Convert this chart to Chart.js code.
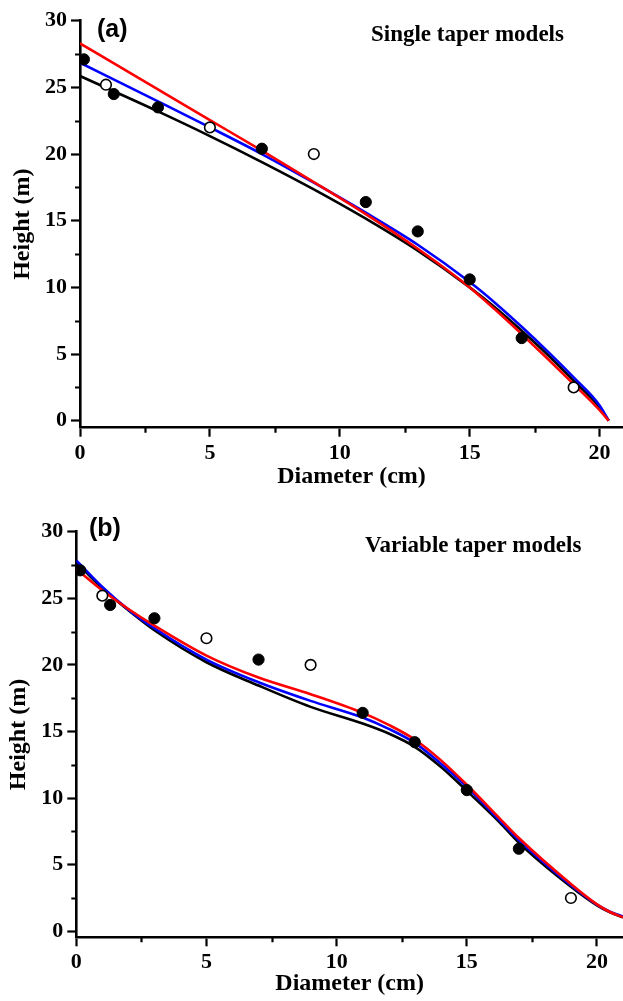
<!DOCTYPE html>
<html>
<head>
<meta charset="utf-8">
<script src="https://cdn.jsdelivr.net/npm/chart.js@4"></script>
<style>
  html, body { margin: 0; padding: 0; background: #fff; }
  .panel { position: absolute; left: 0; width: 623px; }
  #topBox { top: 0; height: 500px; }
  #bottomBox { top: 500px; height: 501px; }
</style>
</head>
<body>
<div class="panel" id="topBox"><canvas id="singleChart"></canvas></div>
<div class="panel" id="bottomBox"><canvas id="variableChart"></canvas></div>
<script>
// measured stem profile (same in both panels)
const filledD = [0.15, 1.3, 3, 7, 11, 13, 15, 17];
const filledH = [27.1, 24.5, 23.5, 20.4, 16.4, 14.2, 10.6, 6.2];
const openD = [1, 5, 9, 19];
const openH = [25.2, 22.0, 20.0, 2.5];

// single taper model curves
const singleD = [0, 3, 5, 7, 9, 11, 13, 15, 16, 17, 18, 19, 20, 20.35];
const singleBlack = [25.85, 23.2, 21.35, 19.4, 17.35, 15.15, 12.75, 10.0, 8.45, 6.75, 4.95, 3.0, 1.0, 0];
const singleBlue = [26.85, 23.95, 22.0, 20.0, 17.85, 15.6, 13.2, 10.4, 8.8, 7.05, 5.2, 3.25, 1.15, 0];
const singleRed = [28.3, 24.85, 22.55, 20.25, 17.9, 15.5, 12.9, 10.0, 8.3, 6.5, 4.65, 2.75, 0.8, 0];

// variable taper model curves
const variableD = [0, 1, 2, 3, 5, 7, 9, 11, 12, 13, 14, 15, 16.25, 17, 19, 20, 20.5, 21];
const variableBlack = [27.7, 25.75, 24.1, 22.6, 20.2, 18.45, 16.85, 15.6, 14.85, 13.85, 12.35, 10.55, 8.2, 6.65, 3.35, 1.95, 1.42, 1.05];
const variableBlue = [27.85, 25.85, 24.15, 22.75, 20.4, 18.7, 17.3, 16.05, 15.2, 14.15, 12.6, 10.85, 8.35, 6.85, 3.45, 2.0, 1.47, 1.1];
const variableRed = [27.2, 25.6, 24.2, 22.95, 20.7, 19.05, 17.8, 16.4, 15.5, 14.4, 12.85, 11.0, 8.5, 7.0, 3.55, 2.02, 1.45, 1.05];

const yTicks = [0, 5, 10, 15, 20, 25, 30];
const xTicks = [0, 5, 10, 15, 20];

const serif = "'Liberation Serif', 'Times New Roman', serif";
const sans = "'Liberation Sans', Arial, sans-serif";

const toXY = (xs, ys) => xs.map((x, i) => ({ x: x, y: ys[i] }));

// short in-between ticks at the half steps
const minorTicks = {
  id: "minorTicks",
  afterDraw(chart) {
    const { ctx } = chart;
    const x = chart.scales.x;
    const y = chart.scales.y;
    ctx.save();
    ctx.strokeStyle = "#000";
    ctx.lineWidth = 2.2;
    ctx.beginPath();
    for (let v = 2.5; v < x.max; v += 5) {
      const px = Math.round(x.getPixelForValue(v)) + 0.5;
      ctx.moveTo(px, x.top);
      ctx.lineTo(px, x.top + 5);
    }
    for (let v = 2.5; v < y.max; v += 5) {
      const py = Math.round(y.getPixelForValue(v)) + 0.5;
      ctx.moveTo(y.right - 5, py);
      ctx.lineTo(y.right, py);
    }
    ctx.stroke();
    ctx.restore();
  },
};

// panel letter and heading inside the plot
const panelText = {
  id: "panelText",
  afterDraw(chart, args, opts) {
    const { ctx } = chart;
    ctx.save();
    ctx.fillStyle = "#000";
    ctx.textBaseline = "alphabetic";
    ctx.textAlign = "left";
    ctx.font = "bold 25px " + sans;
    ctx.fillText(opts.tag, opts.tagX, opts.tagY);
    ctx.font = "bold 23px " + serif;
    ctx.fillText(opts.heading, opts.headX, opts.headY);
    ctx.restore();
  },
};

function makeChart(id, cfg) {
  const ctx = document.getElementById(id).getContext("2d");
  return new Chart(ctx, {
    type: "line",
    data: {
      datasets: [
        {
          label: "filled",
          data: toXY(filledD, filledH),
          showLine: false,
          pointRadius: 5.6,
          pointBackgroundColor: "#000",
          pointBorderColor: "#000",
          pointBorderWidth: 1,
          order: 0,
        },
        {
          label: "open",
          data: toXY(openD, openH),
          showLine: false,
          pointRadius: 5.3,
          pointBackgroundColor: "#fff",
          pointBorderColor: "#000",
          pointBorderWidth: 1.6,
          order: 0,
        },
        {
          label: "red",
          data: toXY(cfg.d, cfg.red),
          borderColor: "#ff0000",
          order: 1,
        },
        {
          label: "blue",
          data: toXY(cfg.d, cfg.blue),
          borderColor: "#0000ff",
          order: 2,
        },
        {
          label: "black",
          data: toXY(cfg.d, cfg.black),
          borderColor: "#000000",
          order: 3,
        },
      ],
    },
    options: {
      responsive: true,
      maintainAspectRatio: false,
      animation: false,
      layout: {
        autoPadding: false,
        padding: { top: cfg.padTop, left: 0, right: 0, bottom: 0 },
      },
      elements: {
        line: { borderWidth: 2.6, cubicInterpolationMode: "monotone", fill: false },
        point: { radius: 0, hoverRadius: 0 },
      },
      plugins: {
        legend: { display: false },
        tooltip: { enabled: false },
        panelText: cfg.text,
      },
      scales: {
        x: {
          type: "linear",
          min: 0,
          max: cfg.xMax,
          afterFit: (s) => {
            s.height = cfg.xHeight;
            s.paddingLeft = 0;
            s.paddingRight = 0;
          },
          afterBuildTicks: (s) => { s.ticks = xTicks.map((v) => ({ value: v })); },
          border: { display: true, color: "#000", width: 2.6 },
          grid: { drawOnChartArea: false, drawTicks: true, tickLength: 9, tickWidth: 2.2, tickColor: "#000" },
          ticks: {
            color: "#000",
            padding: 3,
            maxRotation: 0,
            font: { family: serif, size: 22, weight: "bold" },
          },
          title: {
            display: true,
            text: "Diameter (cm)",
            color: "#000",
            padding: { top: 0, bottom: cfg.xTitlePad },
            font: { family: serif, size: 24, weight: "bold" },
          },
        },
        y: {
          type: "linear",
          min: cfg.yMin,
          max: 30,
          afterFit: (s) => {
            s.width = cfg.yWidth;
            s.paddingTop = 0;
            s.paddingBottom = 0;
          },
          afterBuildTicks: (s) => { s.ticks = yTicks.map((v) => ({ value: v })); },
          border: { display: true, color: "#000", width: 2.6 },
          grid: { drawOnChartArea: false, drawTicks: true, tickLength: 9, tickWidth: 2.2, tickColor: "#000" },
          ticks: {
            color: "#000",
            padding: 4,
            font: { family: serif, size: 22, weight: "bold" },
          },
          title: {
            display: true,
            text: "Height (m)",
            color: "#000",
            padding: { top: cfg.yTitlePad, bottom: 0 },
            font: { family: serif, size: 24, weight: "bold" },
          },
        },
      },
    },
    plugins: [minorTicks, panelText],
  });
}

makeChart("singleChart", {
  d: singleD,
  black: singleBlack,
  blue: singleBlue,
  red: singleRed,
  padTop: 20.7,
  yWidth: 80,
  xHeight: 72.3,
  yMin: -0.52,
  xMax: 20.9,
  xTitlePad: 8.7,
  yTitlePad: 8.5,
  text: { tag: "(a)", tagX: 97, tagY: 36.5, heading: "Single taper models", headX: 371, headY: 41 },
});

makeChart("variableChart", {
  d: variableD,
  black: variableBlack,
  blue: variableBlue,
  red: variableRed,
  padTop: 31.7,
  yWidth: 76.3,
  xHeight: 63.7,
  yMin: -0.45,
  xMax: 21,
  xTitlePad: 2.6,
  yTitlePad: 4.5,
  text: { tag: "(b)", tagX: 89, tagY: 35.5, heading: "Variable taper models", headX: 365, headY: 51.5 },
});
</script>
</body>
</html>
